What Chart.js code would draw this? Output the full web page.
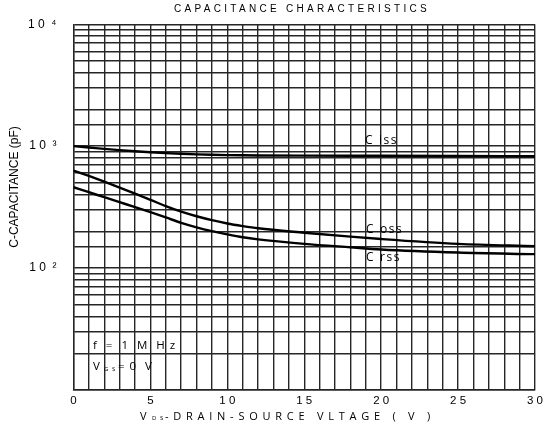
<!DOCTYPE html>
<html>
<head>
<meta charset="utf-8">
<script src="https://cdn.jsdelivr.net/npm/chart.js@4.4.0/dist/chart.umd.min.js"></script>
<style>
	body { margin: 0; background: #fff; }
	#wrap { width: 547px; height: 430px; }
</style>
</head>
<body>
<div id="wrap"><canvas id="cap"></canvas></div>
<script>
// values (pF vs Vds)
var vds = [0, 1, 2, 3, 4, 5, 6, 7, 8, 9, 10, 11, 12, 15, 18, 20, 25, 30];
var ciss = [1000, 975, 950, 927, 907, 890, 876, 865, 856, 849, 844, 841, 839, 836, 834, 833, 830, 826];
var coss = [631, 569, 511, 457, 407, 363, 322, 290, 266, 247, 232, 221, 212, 195, 181, 173, 158, 151];
var crss = [460, 419, 381, 347, 316, 287, 260, 235, 216, 201, 189, 179, 172, 158, 148, 142, 134, 130];
var xTickLabels = ['0', '5', '1 0', '1 5', '2 0', '2 5', '3 0'];
var yTickLabels = { 2: '1 0  \u00b2', 3: '1 0  \u00b3', 4: '1 0  \u2074' };

function pts(ys) {
	var out = [];
	for (var i = 0; i < vds.length; i++) {
		out.push({ x: vds[i], y: ys[i] });
	}
	return out;
}

function line(name, ys) {
	return {
		label: name,
		data: pts(ys),
		borderColor: '#000',
		borderWidth: 2.4,
		pointRadius: 0,
		fill: false,
		cubicInterpolationMode: 'monotone'
	};
}

var textPlugin = {
	id: 'sheetText',
	afterDraw: function(chart) {
		var ctx = chart.ctx;
		ctx.save();
		ctx.fillStyle = '#000';
		ctx.textBaseline = 'middle';

		// title
		ctx.font = '10px "Liberation Sans", Arial, sans-serif';
		ctx.letterSpacing = '3.3px';
		ctx.textAlign = 'center';
		ctx.fillText('CAPACITANCE CHARACTERISTICS', 302, 9);

		// y axis title
		ctx.save();
		ctx.translate(15, 187);
		ctx.rotate(-Math.PI / 2);
		ctx.letterSpacing = '0px';
		ctx.font = '12px "Liberation Sans", Arial, sans-serif';
		ctx.fillText('C-CAPACITANCE (pF)', 0, 0);
		ctx.restore();

		// curve labels
		ctx.textAlign = 'left';
		ctx.font = '12px "Open Sans", sans-serif';
		ctx.letterSpacing = '1.6px';
		ctx.fillText('C iss', 365, 141);
		ctx.fillText('C oss', 366, 230);
		ctx.fillText('C rss', 366, 258);

		// conditions
		ctx.font = '11.5px "Open Sans", sans-serif';
		ctx.letterSpacing = '1px';
		ctx.fillText('f  =  1  M  H z', 93, 346);
		ctx.fillText('V', 93, 367);
		ctx.font = '6px "Open Sans", sans-serif';
		ctx.fillText('G S', 104, 369);
		ctx.font = '11.5px "Open Sans", sans-serif';
		ctx.fillText('= 0  V', 118, 367);

		// x axis title
		ctx.letterSpacing = '0px';
		ctx.font = '11px "Open Sans", sans-serif';
		ctx.fillText('V', 140, 417);
		ctx.font = '6px "Open Sans", sans-serif';
		ctx.letterSpacing = '1px';
		ctx.fillText('D S', 152, 418);
		ctx.font = '11px "Open Sans", sans-serif';
		ctx.letterSpacing = '4.75px';
		ctx.fillText('-DRAIN-SOURCE VLTAGE ( V )', 165, 417);
		ctx.restore();
	}
};

var gridColor = '#262626';

new Chart(document.getElementById('cap'), {
	type: 'line',
	data: {
		datasets: [line('Ciss', ciss), line('Coss', coss), line('Crss', crss)]
	},
	plugins: [textPlugin],
	options: {
		responsive: true,
		maintainAspectRatio: false,
		animation: false,
		layout: { padding: { top: 23, right: 11, left: 0, bottom: 0 } },
		plugins: {
			legend: { display: false },
			tooltip: { enabled: false }
		},
		scales: {
			x: {
				type: 'linear',
				min: 0,
				max: 30,
				afterFit: function(scale) { scale.height = 40; },
				grid: { color: gridColor, lineWidth: 1.4, drawTicks: false },
				border: { color: gridColor, width: 1.4 },
				ticks: {
					stepSize: 1,
					autoSkip: false,
					maxRotation: 0,
					padding: 4,
					color: '#000',
					font: { family: '"Liberation Sans", Arial, sans-serif', size: 11.5 },
					callback: function(v) {
						if (v % 5 !== 0) return '';
						return xTickLabels[v / 5];
					}
				}
			},
			y: {
				type: 'logarithmic',
				min: 10,
				max: 10000,
				afterFit: function(scale) { scale.width = 73.5; },
				grid: { color: gridColor, lineWidth: 1.4, drawTicks: false },
				border: { color: gridColor, width: 1.4 },
				ticks: {
					autoSkip: false,
					padding: 17,
					color: '#000',
					font: { family: '"Liberation Sans", Arial, sans-serif', size: 12 },
					callback: function(v) {
						var e = Math.round(Math.log10(v));
						if (Math.abs(Math.pow(10, e) - v) > 1e-6) return '';
						return yTickLabels[e] || '';
					}
				}
			}
		}
	}
});
</script>
</body>
</html>
